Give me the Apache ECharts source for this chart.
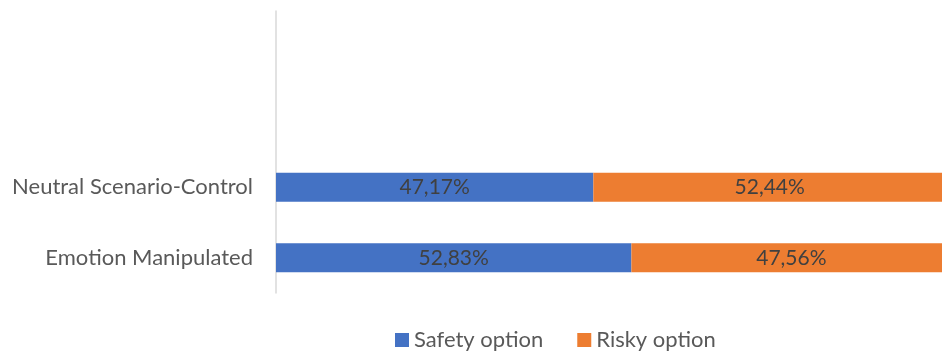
<!DOCTYPE html>
<html>
<head>
<meta charset="utf-8">
<script src="https://cdn.jsdelivr.net/npm/echarts@6/dist/echarts.min.js"></script>
<style>
  html, body { margin: 0; padding: 0; background: #fff; }
  #chart { width: 942px; height: 360px; }
</style>
</head>
<body>
<div id="chart"></div>
<script>
// Choice shares per condition (percent)
const categories = ['Emotion Manipulated', 'Neutral Scenario-Control'];
const safetyOption = [52.83, 47.17];
const riskyOption = [47.56, 52.44];
const seriesNames = ['Safety option', 'Risky option'];

const FONT = 'Lato, "Open Sans", sans-serif';
const fmt = (v) => v.toFixed(2).replace('.', ',') + '%';

const chart = echarts.init(document.getElementById('chart'), null, { renderer: 'canvas' });

const barLabel = {
  show: true,
  position: 'inside',
  color: '#404040',
  fontFamily: FONT,
  fontSize: 21,
  formatter: (p) => fmt(p.value)
};

chart.setOption({
  animation: false,
  backgroundColor: '#ffffff',
  // plot area reaches the right edge; the stacked totals run just past it
  grid: { left: 276, right: 0, top: 11, bottom: 67, containLabel: false },
  legend: {
    left: 390,
    bottom: 4,
    itemWidth: 14,
    itemHeight: 14,
    itemGap: 34,
    icon: 'rect',
    textStyle: { color: '#595959', fontFamily: FONT, fontSize: 22 },
    data: seriesNames
  },
  xAxis: {
    type: 'value',
    min: 0,
    max: 99,
    show: false
  },
  yAxis: {
    type: 'category',
    data: categories,
    max: 3,
    axisLine: { show: true, lineStyle: { color: '#d9d9d9', width: 1.5 } },
    axisTick: { show: false },
    axisLabel: { color: '#595959', fontFamily: FONT, fontSize: 22, margin: 23 }
  },
  series: [
    {
      name: seriesNames[0],
      type: 'bar',
      stack: 'total',
      barWidth: 29,
      clip: false,
      itemStyle: { color: '#4472c4' },
      label: barLabel,
      data: safetyOption
    },
    {
      name: seriesNames[1],
      type: 'bar',
      stack: 'total',
      barWidth: 29,
      clip: false,
      itemStyle: { color: '#ed7d31' },
      label: barLabel,
      data: riskyOption
    }
  ]
});
</script>
</body>
</html>
